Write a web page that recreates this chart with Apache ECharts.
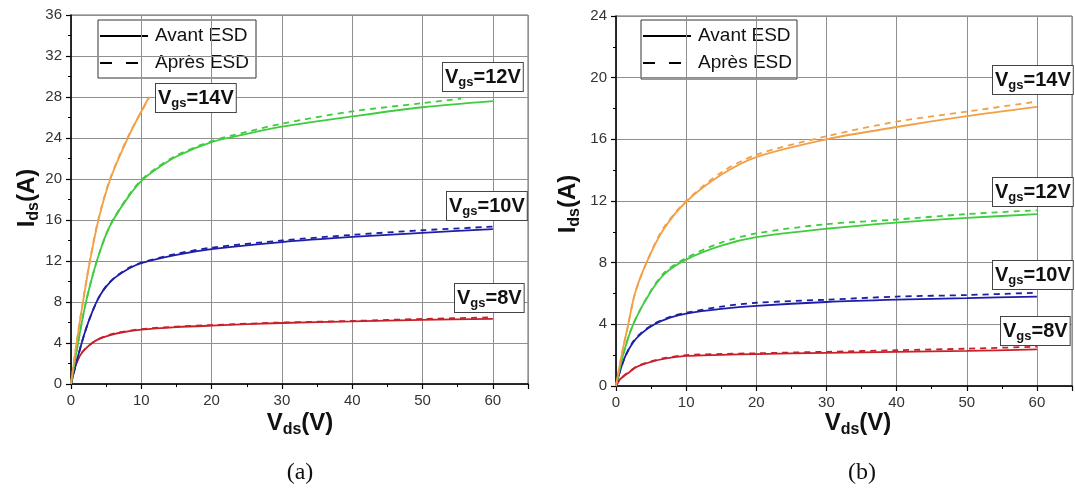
<!DOCTYPE html>
<html><head><meta charset="utf-8">
<script src="https://cdn.jsdelivr.net/npm/echarts@6/dist/echarts.min.js"></script>
<style>html,body{margin:0;padding:0;background:#fff}#c{width:1075px;height:494px}</style>
</head><body><div id="c"></div>
<script>
// ================= DATA =================
const legendNames = ['Avant ESD', 'Après ESD'];
const gateLabels = ['14V', '12V', '10V', '8V'];
const panelLabels = ['(a)', '(b)'];

// ---- Chart (a) : Vds (V) / Ids (A) ----
const a8_vds       = [0, 0.5, 1, 1.5, 2, 3, 4, 5, 7, 10, 15, 20, 30, 40, 50, 60];
const a8_avant     = [0, 1.5, 2.4, 3.0, 3.4, 4.0, 4.4, 4.65, 5.0, 5.3, 5.55, 5.7, 5.95, 6.1, 6.25, 6.35];
const a8_apres     = [0, 1.5, 2.4, 3.0, 3.4, 4.0, 4.4, 4.7, 5.05, 5.35, 5.6, 5.75, 6.0, 6.15, 6.35, 6.5];

const a10_vds      = [0, 1, 2, 3, 4, 5, 6.3, 8.3, 10, 15, 20, 30, 40, 50, 60];
const a10_avant    = [0, 2.7, 5.1, 7.0, 8.5, 9.5, 10.4, 11.3, 11.8, 12.6, 13.15, 13.85, 14.35, 14.75, 15.1];
const a10_apres    = [0, 2.7, 5.1, 7.0, 8.5, 9.55, 10.45, 11.35, 11.85, 12.7, 13.3, 14.0, 14.55, 15.0, 15.35];

const a12_vds      = [0, 1, 2, 3, 4, 5, 6, 8.3, 10, 12, 15, 20, 25, 30, 40, 50, 60];
const a12_avant    = [0, 4, 7.6, 10.4, 12.7, 14.6, 16.0, 18.4, 19.8, 20.9, 22.2, 23.6, 24.4, 25.1, 26.1, 27.0, 27.6];
const a12_vds_ap   = [0, 1, 2, 3, 4, 5, 6, 8.3, 10, 12, 15, 20, 25, 30, 40, 50, 55.5];
const a12_apres    = [0, 4, 7.6, 10.4, 12.7, 14.6, 16.05, 18.5, 19.9, 21.0, 22.3, 23.7, 24.6, 25.4, 26.6, 27.4, 27.85];

const a14_vds      = [0, 0.8, 1.7, 2.7, 3.9, 5.6, 8.3, 11.1];
const a14_avant    = [0, 4, 8, 12, 16, 20, 24.3, 28];
const a14_apres    = [0, 4.1, 8.1, 12.1, 16.1, 20.1, 24.4, 27.9];

// ---- Chart (b) : Vds (V) / Ids (A) ----
const b8_vds       = [0, 0.5, 1, 1.75, 3, 5, 7, 10, 15, 20, 30, 40, 50, 60];
const b8_avant     = [0, 0.4, 0.6, 0.85, 1.25, 1.57, 1.78, 1.95, 2.02, 2.07, 2.15, 2.22, 2.28, 2.37];
const b8_apres     = [0, 0.4, 0.62, 0.88, 1.28, 1.6, 1.82, 2.0, 2.08, 2.12, 2.22, 2.32, 2.42, 2.55];

const b10_vds      = [0, 0.6, 1.3, 2.4, 3.6, 5.5, 7.8, 10, 15, 20, 30, 40, 50, 60];
const b10_avant    = [0, 1, 1.9, 2.8, 3.4, 4.0, 4.45, 4.7, 5.0, 5.2, 5.45, 5.6, 5.7, 5.8];
const b10_apres    = [0, 1, 1.9, 2.85, 3.45, 4.05, 4.5, 4.75, 5.15, 5.4, 5.6, 5.8, 5.9, 6.05];

const b12_vds      = [0, 1, 2.45, 4.8, 7, 10, 15, 20, 30, 40, 50, 60];
const b12_avant    = [0, 2, 4, 6, 7.3, 8.2, 9.1, 9.65, 10.2, 10.6, 10.9, 11.15];
const b12_apres    = [0, 2, 4, 6.05, 7.4, 8.3, 9.3, 9.9, 10.5, 10.8, 11.15, 11.4];

const b14_vds      = [0, 0.8, 1.75, 2.7, 4.35, 6.7, 10, 15, 20, 30, 40, 50, 60];
const b14_avant    = [0, 2, 4, 6, 8, 10.1, 11.95, 13.7, 14.85, 16.0, 16.8, 17.5, 18.1];
const b14_apres    = [0, 2, 4, 6, 8, 10.2, 12.0, 13.85, 15.0, 16.2, 17.15, 17.8, 18.45];

const xMax = 65, xInterval = 10;
const yMaxA = 36, yMaxB = 24, yInterval = 4;

// ================= STYLE =================
const COL = { 14: '#F2A046', 12: '#3FCC3F', 10: '#1E1EA6', 8: '#C8202A' };
const FONT = 'Liberation Sans';

function pairs(xs, ys) { return xs.map((x, i) => [x, ys[i]]); }
function mk(name, xs, ys, color, dashed, gi) {
  return {
    name: name, type: 'line', xAxisIndex: gi, yAxisIndex: gi,
    data: pairs(xs, ys), showSymbol: false, symbol: 'none',
    smooth: 0.3, silent: true,
    lineStyle: { color: color, width: 1.8, type: dashed ? [6, 5] : 'solid' },
    z: dashed ? 4 : 3
  };
}

const series = [
  mk('a8 avant', a8_vds, a8_avant, COL[8], false, 0),
  mk('a8 apres', a8_vds, a8_apres, COL[8], true, 0),
  mk('a10 avant', a10_vds, a10_avant, COL[10], false, 0),
  mk('a10 apres', a10_vds, a10_apres, COL[10], true, 0),
  mk('a12 avant', a12_vds, a12_avant, COL[12], false, 0),
  mk('a12 apres', a12_vds_ap, a12_apres, COL[12], true, 0),
  mk('a14 avant', a14_vds, a14_avant, COL[14], false, 0),
  mk('a14 apres', a14_vds, a14_apres, COL[14], true, 0),
  mk('b8 avant', b8_vds, b8_avant, COL[8], false, 1),
  mk('b8 apres', b8_vds, b8_apres, COL[8], true, 1),
  mk('b10 avant', b10_vds, b10_avant, COL[10], false, 1),
  mk('b10 apres', b10_vds, b10_apres, COL[10], true, 1),
  mk('b12 avant', b12_vds, b12_avant, COL[12], false, 1),
  mk('b12 apres', b12_vds, b12_apres, COL[12], true, 1),
  mk('b14 avant', b14_vds, b14_avant, COL[14], false, 1),
  mk('b14 apres', b14_vds, b14_apres, COL[14], true, 1)
];

function xAx(gi) {
  return {
    gridIndex: gi, type: 'value', min: 0, max: xMax, interval: xInterval,
    axisLine: { onZero: false, lineStyle: { color: '#000', width: 1.5 } },
    axisTick: { length: 5, lineStyle: { color: '#000', width: 1.2 } },
    minorTick: { show: true, splitNumber: 2, length: 3, lineStyle: { color: '#000', width: 1 } },
    splitLine: { show: true, lineStyle: { color: '#8f8f8f', width: 1 } },
    axisLabel: { fontSize: 15, color: '#333', fontFamily: FONT, margin: 9, showMaxLabel: false }
  };
}
function yAx(gi, max) {
  return {
    gridIndex: gi, type: 'value', min: 0, max: max, interval: yInterval,
    axisLine: { onZero: false, lineStyle: { color: '#000', width: 1.5 } },
    axisTick: { length: 5, lineStyle: { color: '#000', width: 1.2 } },
    minorTick: { show: true, splitNumber: 2, length: 3, lineStyle: { color: '#000', width: 1 } },
    splitLine: { show: true, lineStyle: { color: '#8f8f8f', width: 1 } },
    axisLabel: { fontSize: 15, color: '#333', fontFamily: FONT, margin: 9 }
  };
}

// ---------- annotations ----------
const txtRich = {
  v: { fontSize: 20, fontWeight: 'bold', fontFamily: FONT, fill: '#111', lineHeight: 24 },
  s: { fontSize: 13, fontWeight: 'bold', fontFamily: FONT, fill: '#111', lineHeight: 24, verticalAlign: 'bottom' }
};
function gsLabel(v, x, y) {
  return {
    type: 'text', x: x, y: y, z: 100,
    style: {
      text: '{v|V}{s|gs}{v|=' + v + '}', rich: txtRich,
      backgroundColor: '#fff', borderColor: '#444', borderWidth: 1,
      padding: [2, 2, 2, 2], align: 'left', verticalAlign: 'top'
    }
  };
}
const titleRich = {
  m: { fontSize: 24, fontWeight: 'bold', fontFamily: FONT, fill: '#111', lineHeight: 30 },
  s: { fontSize: 16, fontWeight: 'bold', fontFamily: FONT, fill: '#111', lineHeight: 30, verticalAlign: 'bottom' }
};
function yTitle(x, y) {
  return { type: 'text', x: x, y: y, rotation: Math.PI / 2, z: 100,
    style: { text: '{m|I}{s|ds}{m|(A)}', rich: titleRich, align: 'center', verticalAlign: 'middle' } };
}
function xTitle(x, y) {
  return { type: 'text', x: x, y: y, z: 100,
    style: { text: '{m|V}{s|ds}{m|(V)}', rich: titleRich, align: 'center', verticalAlign: 'middle' } };
}
function panel(t, x, y) {
  return { type: 'text', x: x, y: y, z: 100,
    style: { text: t, font: '24px "Liberation Serif"', fill: '#111', align: 'center', verticalAlign: 'middle' } };
}
function legendBox(x0, y0, w, h) {
  return {
    type: 'group', x: x0, y: y0, z: 100,
    children: [
      { type: 'rect', shape: { x: 0, y: 0, width: w, height: h }, style: { fill: '#fff', stroke: '#333', lineWidth: 1 } },
      { type: 'line', shape: { x1: 2, y1: 16, x2: 50, y2: 16 }, style: { stroke: '#000', lineWidth: 2 } },
      { type: 'text', x: 57, y: 16, style: { text: legendNames[0], font: '19px "Liberation Sans"', fill: '#111', align: 'left', verticalAlign: 'middle' } },
      { type: 'line', shape: { x1: 2, y1: 43, x2: 50, y2: 43 }, style: { stroke: '#000', lineWidth: 2, lineDash: [12, 14] } },
      { type: 'text', x: 57, y: 43, style: { text: legendNames[1], font: '19px "Liberation Sans"', fill: '#111', align: 'left', verticalAlign: 'middle' } }
    ]
  };
}

const graphic = [
  legendBox(98, 20, 158, 58),
  legendBox(641, 20, 156, 59),
  gsLabel(gateLabels[0], 156, 84),
  gsLabel(gateLabels[1], 443, 63),
  gsLabel(gateLabels[2], 447, 192),
  gsLabel(gateLabels[3], 455, 284),
  gsLabel(gateLabels[0], 993, 66),
  gsLabel(gateLabels[1], 993, 178),
  gsLabel(gateLabels[2], 993, 261),
  gsLabel(gateLabels[3], 1001, 317),
  yTitle(27, 198),
  yTitle(568, 204),
  xTitle(300, 423),
  xTitle(858, 423),
  panel(panelLabels[0], 300, 473),
  panel(panelLabels[1], 862, 473)
];

const chart = echarts.init(document.getElementById('c'), null, { renderer: 'canvas' });
chart.setOption({
  animation: false,
  backgroundColor: '#fff',
  grid: [
    { left: 71, top: 15, width: 457, height: 369, show: true, borderColor: '#666', borderWidth: 1 },
    { left: 616, top: 16, width: 456, height: 370, show: true, borderColor: '#666', borderWidth: 1 }
  ],
  xAxis: [xAx(0), xAx(1)],
  yAxis: [yAx(0, yMaxA), yAx(1, yMaxB)],
  series: series,
  graphic: graphic
});
</script>
</body></html>
